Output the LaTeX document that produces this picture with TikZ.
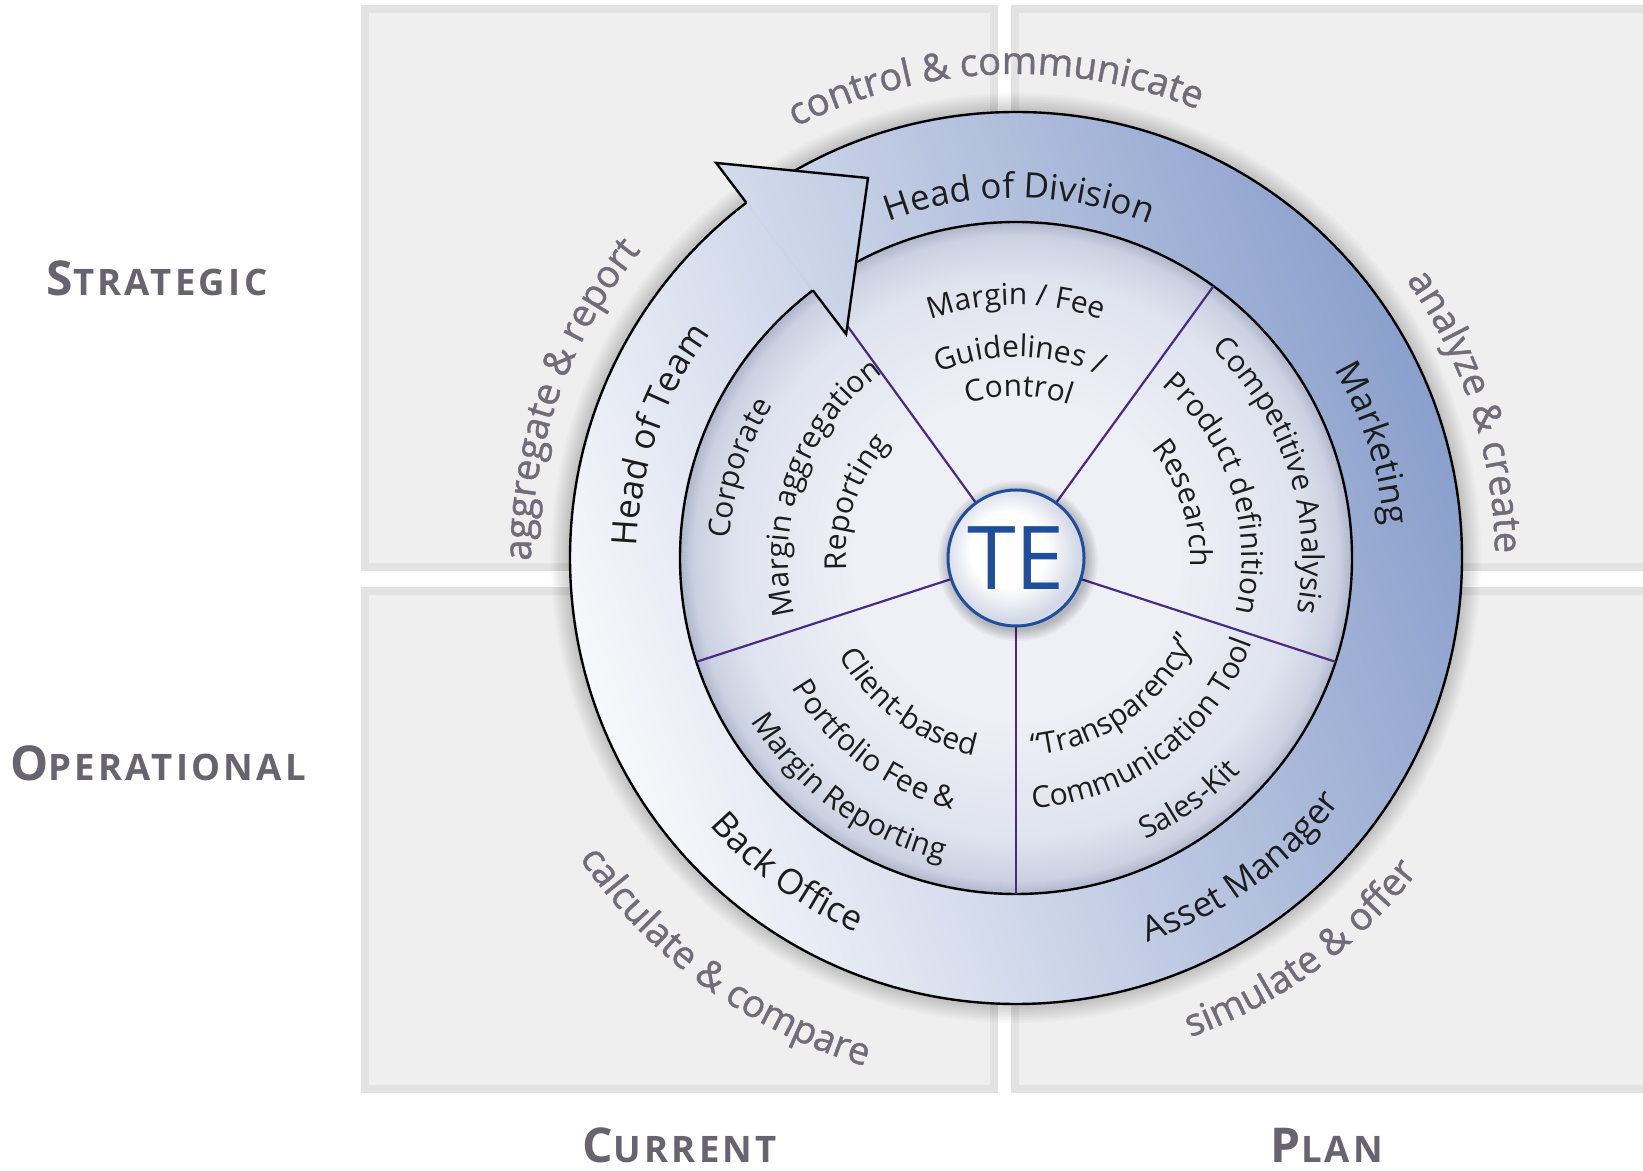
\documentclass[tikz,border=0pt]{standalone}
\usepackage{fontspec}
\setmainfont{Open Sans}
\newfontfamily\labfont{Open Sans}[LetterSpace=9]
\newfontfamily\outerfont{Open Sans}[FakeBold=1.2]
\usetikzlibrary{decorations.text}
\definecolor{panelfill}{HTML}{EFEFEF}
\definecolor{panelline}{HTML}{E3E3E3}
\definecolor{labelgray}{HTML}{67636F}
\definecolor{outergray}{HTML}{706C79}
\definecolor{ringblue}{HTML}{8A9FCC}
\definecolor{ringwhite}{HTML}{F7F8FB}
\definecolor{spokecol}{HTML}{4B2A85}
\definecolor{teblue}{HTML}{1E4E9C}
\definecolor{inktext}{HTML}{1C1C1C}
\definecolor{pieinner}{HTML}{EEF0F6}
\definecolor{piemid}{HTML}{DFE3EE}
\definecolor{pieedge}{HTML}{CBD1E1}
\definecolor{pierim}{HTML}{AEB6CA}
\definecolor{teinner}{HTML}{FFFFFF}
\definecolor{teouter}{HTML}{D3D8E6}
\pgfdeclareradialshading{pieshade}{\pgfpointorigin}{color(0bp)=(pieinner); color(12bp)=(pieinner); color(21bp)=(piemid); color(24bp)=(pieedge); color(25bp)=(pierim); color(50bp)=(pierim)}
\pgfdeclareradialshading{teshade}{\pgfpoint{-4bp}{4bp}}{color(0bp)=(teinner); color(14bp)=(teinner); color(25bp)=(teouter); color(50bp)=(teouter)}
\newcommand\outerfmt{\outerfont\fontsize{38}{44}\selectfont\color{outergray}}
\newcommand\ringfmt{\fontsize{35}{40}\selectfont\color{inktext}}
\newcommand\innerfmt{\fontsize{30}{36}\selectfont\color{inktext}}
\newcommand\cwtext[4]{\path[decorate,decoration={text along path,text align=center,text={|#3|#4}}] (#2+50:#1) arc[start angle=#2+50,end angle=#2-50,radius=#1];}
\newcommand\ccwtext[4]{\path[decorate,decoration={text along path,text align=center,text={|#3|#4}}] (#2-50:#1) arc[start angle=#2-50,end angle=#2+50,radius=#1];}
\newcommand\bigsc[2]{{\fontsize{48}{50}\selectfont #1}{\fontsize{36.5}{40}\selectfont #2}}
\begin{document}
\begin{tikzpicture}[x=1pt,y=1pt,
  panel/.style={fill=panelfill,draw=panelline,line width=8pt},
  rowlab/.style={text=labelgray,font=\labfont\bfseries,inner sep=0pt,anchor=center},
  spokeline/.style={draw=spokecol,line width=2.2pt},
  rimline/.style={draw=black,line width=2.4pt},
  ringfill/.style={left color=ringwhite,right color=ringblue,shading angle=110},
  tecirc/.style={circle,minimum size=136pt,inner sep=0pt,draw=teblue,line width=3pt,shade,shading=teshade,text=teblue,font=\fontsize{88}{88}\selectfont}]
\useasboundingbox (0,0) rectangle (1643,1170);
\fill[white] (0,0) rectangle (1643,1170);
% quadrant panels
\draw[panel] (365,603) rectangle (994,1161);
\draw[panel] (1015,603) rectangle (1660,1161);
\draw[panel] (365,81) rectangle (994,579);
\draw[panel] (1015,81) rectangle (1660,579);
% axis labels
\node[rowlab] (strategic) at (157,892) {\bigsc{S}{TRATEGIC}};
\node[rowlab] (operational) at (158,407) {\bigsc{O}{PERATIONAL}};
\node[rowlab] (current) at (680,25) {\bigsc{C}{URRENT}};
\node[rowlab] (plan) at (1327,25) {\bigsc{P}{LAN}};
\begin{scope}[shift={(1016,612)}]
  % soft shadow of the ring
  \foreach \i in {1,...,12} \fill[black,opacity=0.016] (0,0) circle ({446+1.6*\i});
  % ring
  \path[ringfill,even odd rule] (0,0) circle (446) (0,0) circle (336);
  % pie
  \shade[shading=pieshade] (0,0) circle (336);
  \draw[rimline] (0,0) circle (446);
  \draw[rimline] (0,0) circle (336);
  % spokes
  \foreach \a in {-90,-18,54,126,198} \draw[spokeline] (\a:68) -- (\a:336);
  % TE centre
  \foreach \i in {1,...,8} \fill[black,opacity=0.03] (2,-3) circle ({68+1.5*\i});
  \node[tecirc] (te) at (0,0) {TE};
  % arrow head
  \coordinate (P) at (127.2:446);
  \coordinate (Q) at (127.2:336);
  \coordinate (A) at (127.2:496);
  \coordinate (Cb) at (127.2:281);
  \coordinate (B) at (-148,380);
  \foreach \i in {1,...,6} \fill[black,opacity=0.025,shift={(-2-\i*0.8,-2-\i*0.8)}] (P)--(A)--(B)--(Cb)--(Q)--cycle;
  \begin{scope}
    \clip (P)--(A)--(B)--(Cb)--(Q)--cycle;
    \path[ringfill] (-446,-446) rectangle (446,446);
  \end{scope}
  \draw[rimline,line join=miter] (P)--(A)--(B)--(Cb)--(Q);
  % outer verbs
  \cwtext{484}{92.5}{\outerfmt}{control {\&} communicate}
  \cwtext{479}{18}{\outerfmt}{analyze {\&} create}
  \cwtext{485}{160.5}{\outerfmt}{aggregate {\&} report}
  \ccwtext{510}{-54}{\outerfmt}{simulate {\&} offer}
  \ccwtext{530}{-126}{\outerfmt}{calculate {\&} compare}
  % ring roles
  \cwtext{360}{89.5}{\ringfmt}{Head of Division}
  \cwtext{370}{17.8}{\ringfmt}{Marketing}
  \cwtext{379}{161}{\ringfmt}{Head of Team}
  \ccwtext{406}{-54}{\ringfmt}{Asset Manager}
  \ccwtext{407}{-126}{\ringfmt}{Back Office}
  % sector contents
  \cwtext{287}{162}{\innerfmt}{Corporate}
  \cwtext{228}{160}{\innerfmt}{Margin aggregation}
  \cwtext{170}{161}{\innerfmt}{Reporting}
  \cwtext{286}{18}{\innerfmt}{Competitive Analysis}
  \cwtext{226}{18}{\innerfmt}{Product definition}
  \cwtext{174}{18}{\innerfmt}{Research}
  \cwtext{253}{90}{\innerfmt}{Margin / Fee}
  \cwtext{201}{89}{\innerfmt}{Guidelines /}
  \cwtext{162}{89}{\innerfmt}{Control}
  \ccwtext{202}{-126.5}{\innerfmt}{Client-based}
  \ccwtext{259}{-127}{\innerfmt}{Portfolio Fee {\&}}
  \ccwtext{311}{-126}{\innerfmt}{Margin Reporting}
  \ccwtext{198}{-55}{\innerfmt}{{\textquotedblleft}Transparency{\textquotedblright}}
  \ccwtext{251}{-53}{\innerfmt}{Communication Tool}
  \ccwtext{310}{-54.5}{\innerfmt}{Sales-Kit}
\end{scope}
\end{tikzpicture}
\end{document}
